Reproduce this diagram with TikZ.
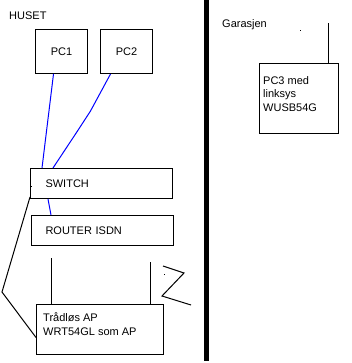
\documentclass[tikz,border=0pt]{standalone}
\usepackage{fontspec}
\setmainfont{Liberation Sans}
\usetikzlibrary{positioning}

\begin{document}
\begin{tikzpicture}[
      x=1pt, y=-1pt,
      every node/.style={font=\fontsize{11}{13.5}\selectfont},
      box/.style={rectangle, draw, line width=1pt, inner sep=0pt, anchor=north west},
      txt/.style={inner sep=0pt, align=left, anchor=north west},
      cable/.style={blue, line width=1pt},
      wire/.style={line width=1pt}
    ]
    \useasboundingbox (0,0) rectangle (351,363);
    \node[txt, anchor=west] (huset) at (9,16) {HUSET};
    \node[box, minimum width=52pt, minimum height=44pt] (pc1) at (35,29) {PC1};
    \node[box, minimum width=52pt, minimum height=44pt] (pc2) at (100,29) {PC2};
    \node[box, minimum width=142pt, minimum height=30pt, text width=112pt, align=left] (switch) at (30,168) {SWITCH};
    \node[box, minimum width=142pt, minimum height=30pt, text width=114pt, align=left] (router) at (31,215) {ROUTER ISDN};
    \node[box, minimum width=127pt, minimum height=50pt] (ap) at (36,304) {};
    \node[txt, font=\fontsize{11}{14}\selectfont] (aptxt) at ([shift={(7pt,-8pt)}]ap.north west) {Trådløs AP\\WRT54GL som AP};
    \draw[cable] ([xshift=-8pt]pc1.south) -- ([xshift=12pt]switch.north west);
    \draw[cable] ([xshift=-16pt]pc2.south) -- ++(-20,37) -- ++(-13,20) -- ([xshift=23pt]switch.north west);
    \draw[cable] ([xshift=18pt]switch.south west) -- ([xshift=20pt]router.north west);
    \draw[wire] ([yshift=2pt]switch.south west) -- (2,292) -- ([yshift=-8pt]ap.west);
    \fill (31,186) rectangle ++(1,1);
    \draw[wire] ([xshift=15pt]ap.north west) -- ++(0,-46);
    \draw[wire] ([xshift=114pt]ap.north west) -- ++(0,-42);
    \draw[wire] (163,266) -- (184,273) -- (162,296) -- (191,305);
    \fill (164,274) rectangle ++(1,1);
    \fill (204,0) rectangle (209,361);
    \node[txt, anchor=west] (garasjen) at (222,25) {Garasjen};
    \fill (300,30) rectangle ++(1,1);
    \node[box, minimum width=79pt, minimum height=70pt] (pc3) at (259,63) {};
    \node[txt] (pc3txt) at ([shift={(4pt,-13pt)}]pc3.north west) {PC3 med\\linksys\\WUSB54G};
    \draw[wire] ([xshift=69pt]pc3.north west) -- ++(0,-40);
  \end{tikzpicture}
\end{document}
